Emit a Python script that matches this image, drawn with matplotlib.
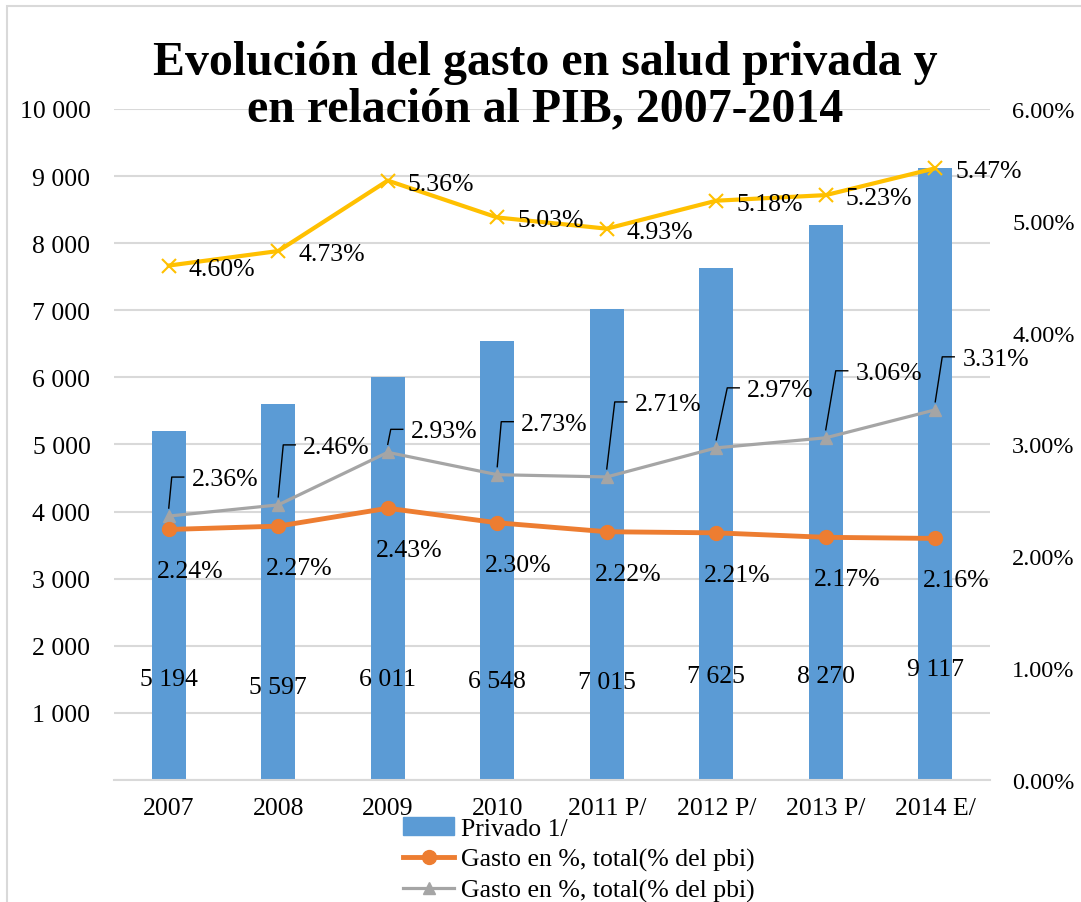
import matplotlib.pyplot as plt
import matplotlib.transforms as mtransforms
from matplotlib import patches
from matplotlib.lines import Line2D

# data
years = ["2007", "2008", "2009", "2010", "2011 P/", "2012 P/", "2013 P/", "2014 E/"]
privado = [5194, 5597, 6011, 6548, 7015, 7625, 8270, 9117]
gasto_orange = [2.24, 2.27, 2.43, 2.30, 2.22, 2.21, 2.17, 2.16]
gasto_gray = [2.36, 2.46, 2.93, 2.73, 2.71, 2.97, 3.06, 3.31]
gasto_yellow = [4.60, 4.73, 5.36, 5.03, 4.93, 5.18, 5.23, 5.47]
legend_labels = ["Privado 1/", "Gasto en %, total(% del pbi)",
                 "Gasto en %, total(% del pbi)", "Gasto en %, total(% del pbi)"]

# label placement (pixels)
bar_label_y = [1500, 1390, 1500, 1470, 1460, 1550, 1550, 1660]
gray_dy = [37, 58, 21, 51, 73, 58, 65, 51]
gray_slant = [3, 5, 3, 4, 8, 11, 10, 7]

BLUE = "#5B9BD5"
ORANGE = "#ED7D31"
GRAY = "#A5A5A5"
YELLOW = "#FFC000"
GRID = "#D9D9D9"

plt.rcParams['font.family'] = ['Liberation Serif', 'DejaVu Serif']
FS = 18.5
PX = 0.72  # points per pixel at dpi 100

fig = plt.figure(figsize=(10.81, 9.03), dpi=100)
fig.patches.append(patches.Rectangle((7 / 1081, -0.1), 1.2, 1 - 7 / 903 + 0.1,
                                     transform=fig.transFigure, fill=False,
                                     edgecolor=GRID, linewidth=1.5))

ax = fig.add_axes([114 / 1081, 1 - 781 / 903, 876 / 1081, 671 / 903])
ax2 = ax.twinx()

x = list(range(len(years)))
bars = ax.bar(x, privado, width=0.31, color=BLUE, zorder=2)
ax.set_xlim(-0.5, len(years) - 0.5)
ax.set_ylim(0, 10000)
ax.set_yticks(range(0, 10001, 1000))
ax.set_yticklabels([""] + [f"{v:,}".replace(",", " ") for v in range(1000, 10001, 1000)])
ax.yaxis.grid(True, color=GRID, linewidth=1.5, zorder=0)
ax.set_axisbelow(True)
ax.set_xticks(x)
ax.set_xticklabels(years)
ax.tick_params(axis='both', length=0, labelsize=FS)
ax.tick_params(axis='x', pad=12)
ax.tick_params(axis='y', pad=17)
for s in ["top", "right", "left"]:
    ax.spines[s].set_visible(False)
ax.spines["bottom"].set_color(GRID)
ax.spines["bottom"].set_linewidth(1.5)

for i, v in enumerate(privado):
    ax.text(i, bar_label_y[i], f"{v:,}".replace(",", " "), ha='center', va='center',
            fontsize=FS, zorder=5)

ax2.set_ylim(0, 6)
ax2.set_yticks([0, 1, 2, 3, 4, 5, 6])
ax2.set_yticklabels([f"{v:.2f}%" for v in range(7)])
ax2.tick_params(axis='y', length=0, labelsize=17.5, pad=16)
for s in ax2.spines.values():
    s.set_visible(False)

ax2.plot(x, gasto_yellow, color=YELLOW, lw=3, marker='x', ms=10, mew=1.5, zorder=3)
ax2.plot(x, gasto_gray, color=GRAY, lw=2.3, marker='^', ms=9, zorder=3)
ax2.plot(x, gasto_orange, color=ORANGE, lw=3.5, marker='o', ms=10, zorder=4)

for i, v in enumerate(gasto_yellow):
    ax2.annotate(f"{v:.2f}%", (i, v), xytext=(20 * PX, -3 * PX), textcoords='offset points',
                 ha='left', va='center', fontsize=FS)

for i, v in enumerate(gasto_orange):
    ax2.annotate(f"{v:.2f}%", (i, v), xytext=(-12 * PX, -42 * PX), textcoords='offset points',
                 ha='left', va='center', fontsize=FS)

for i, v in enumerate(gasto_gray):
    dy = gray_dy[i]
    sl = gray_slant[i]
    tr = fig.dpi_scale_trans + mtransforms.ScaledTranslation(i, v, ax2.transData)
    ax2.add_line(Line2D([0, sl / 100, (sl + 12) / 100], [8 / 100, (dy + 2) / 100, (dy + 2) / 100],
                        transform=tr, color='black', lw=1))
    ax2.annotate(f"{v:.2f}%", (i, v), xytext=((sl + 20) * PX, dy * PX), textcoords='offset points',
                 ha='left', va='center', fontsize=FS)

fig.text(545 / 1081, 1 - 86 / 903, "Evolución del gasto en salud privada y\nen relación al PIB, 2007-2014",
         ha='center', va='center', fontsize=34.5, fontweight='bold', linespacing=1.05)

handles = [patches.Patch(color=BLUE),
           Line2D([], [], color=ORANGE, lw=3.5, marker='o', ms=10),
           Line2D([], [], color=GRAY, lw=2.3, marker='^', ms=9),
           Line2D([], [], color=YELLOW, lw=3, marker='x', ms=10, mew=1.5)]
fig.legend(handles, legend_labels, loc='upper left', bbox_to_anchor=(403 / 1081, 1 - 818 / 903),
           frameon=False, fontsize=FS, labelspacing=0.3, handlelength=2.0,
           handletextpad=0.25, borderpad=0, borderaxespad=0)

fig.savefig("out.png", dpi=100)
